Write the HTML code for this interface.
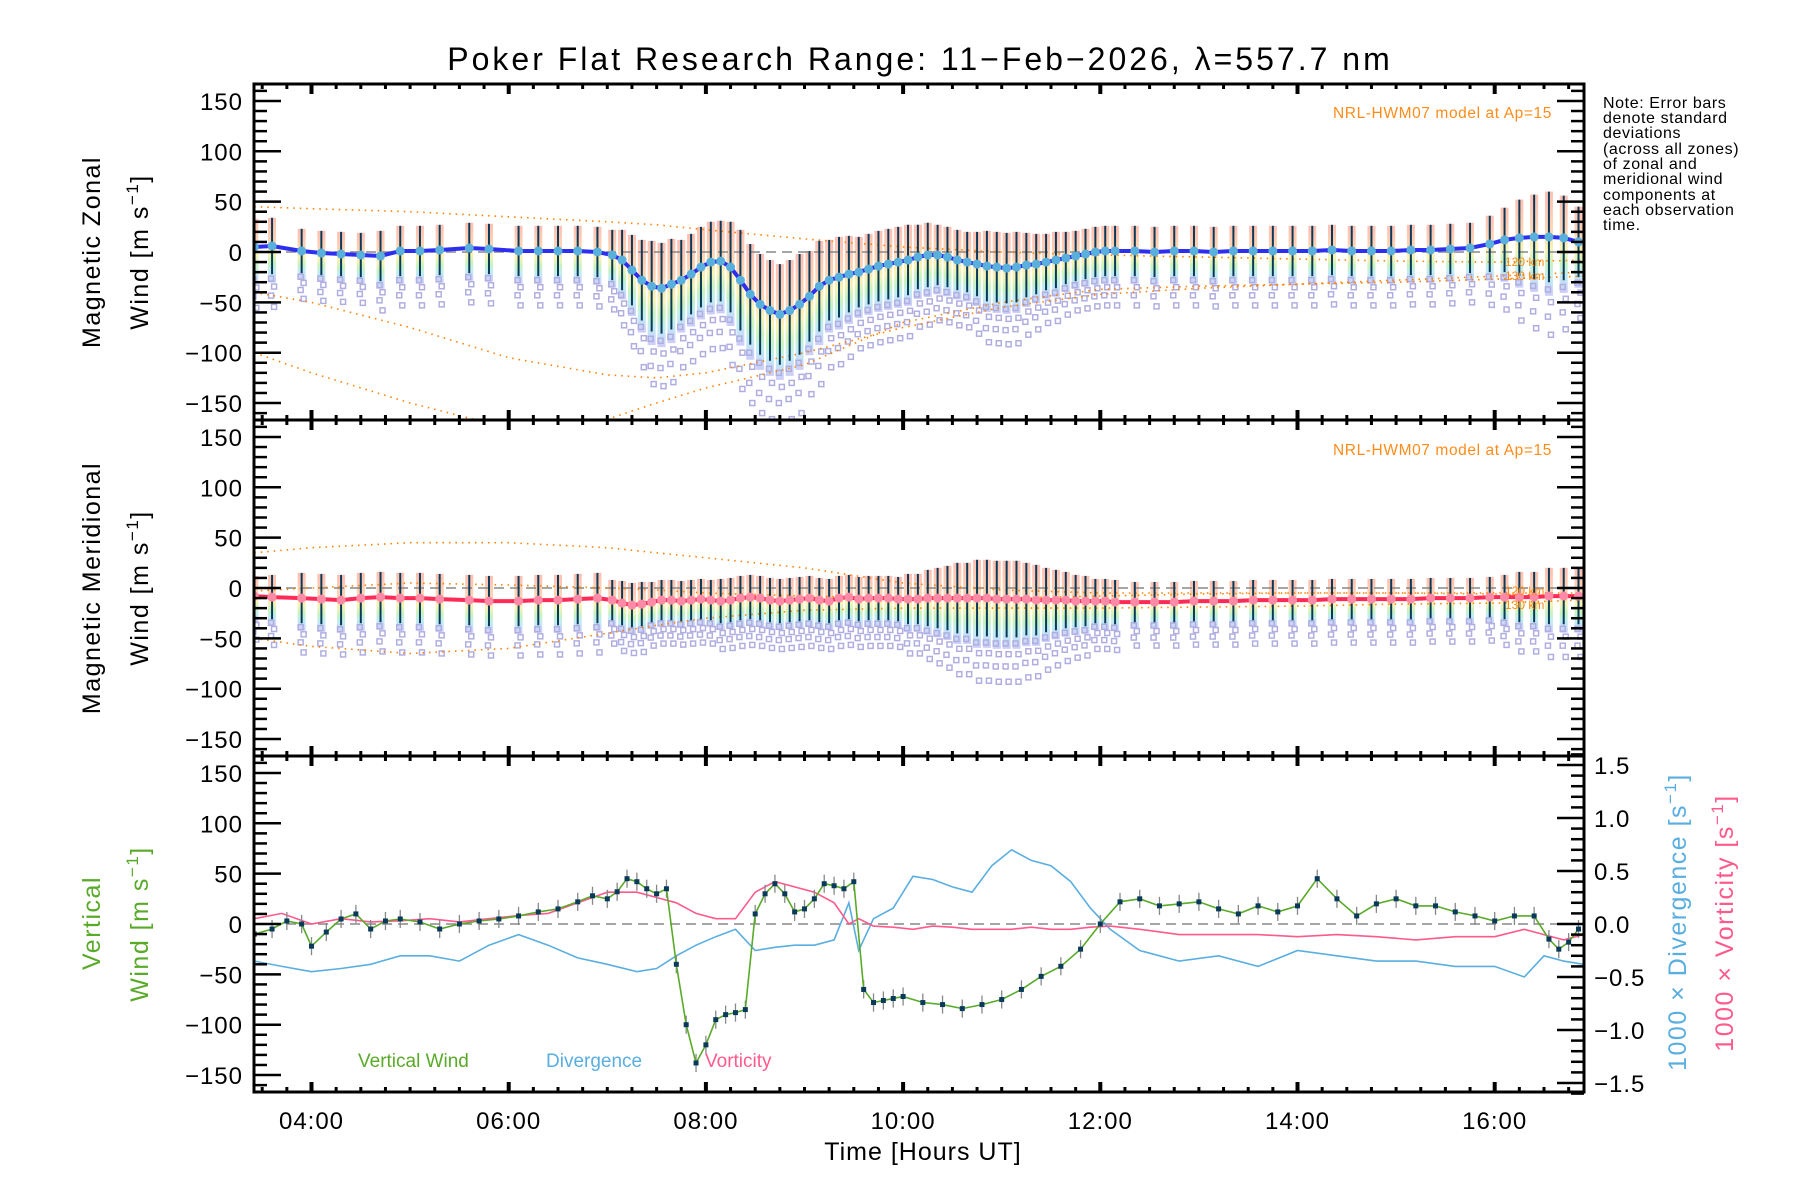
<!DOCTYPE html>
<html><head><meta charset="utf-8"><title>Poker Flat winds</title>
<style>
html,body{margin:0;padding:0;background:#fff;}
svg{display:block;font-family:"Liberation Sans",sans-serif;}
</style></head>
<body>
<svg id="chart" width="1800" height="1200" viewBox="0 0 1800 1200" xmlns="http://www.w3.org/2000/svg">
<defs>
<linearGradient id="rainbow" x1="0" y1="0" x2="0" y2="1">
<stop offset="0" stop-color="#ffb0a0"/><stop offset="0.35" stop-color="#ffc8a0"/><stop offset="0.55" stop-color="#f8f0a0"/><stop offset="0.7" stop-color="#b8f0b0"/><stop offset="0.82" stop-color="#b0e8f0"/><stop offset="1" stop-color="#c0c0f8"/>
</linearGradient>
<clipPath id="clip0"><rect x="254" y="84" width="1330" height="336"/></clipPath>
<clipPath id="clip1"><rect x="254" y="420" width="1330" height="336"/></clipPath>
<clipPath id="clip2"><rect x="254" y="756" width="1330" height="336"/></clipPath>
</defs>
<text x="920" y="70" font-size="32" letter-spacing="3" text-anchor="middle" fill="#000">Poker Flat Research Range: 11−Feb−2026, λ=557.7 nm</text>
<g id="layer"></g>
<text transform="translate(100,252) rotate(-90)" font-size="25" letter-spacing="1.5" text-anchor="middle">Magnetic Zonal</text>
<text transform="translate(148,252) rotate(-90)" font-size="25" letter-spacing="1.5" text-anchor="middle">Wind [m s<tspan dy="-10" font-size="17">−1</tspan><tspan dy="10">]</tspan></text>
<text transform="translate(100,588) rotate(-90)" font-size="25" letter-spacing="1.5" text-anchor="middle">Magnetic Meridional</text>
<text transform="translate(148,588) rotate(-90)" font-size="25" letter-spacing="1.5" text-anchor="middle">Wind [m s<tspan dy="-10" font-size="17">−1</tspan><tspan dy="10">]</tspan></text>
<text transform="translate(100,923) rotate(-90)" font-size="25" letter-spacing="1.5" text-anchor="middle" fill="#5aaa2a">Vertical</text>
<text transform="translate(148,924) rotate(-90)" font-size="25" letter-spacing="1.5" text-anchor="middle" fill="#5aaa2a">Wind [m s<tspan dy="-10" font-size="17">−1</tspan><tspan dy="10">]</tspan></text>
<text transform="translate(1686,922) rotate(-90)" font-size="25" letter-spacing="1.5" text-anchor="middle" fill="#5aaee0">1000 × Divergence [s<tspan dy="-10" font-size="17">−1</tspan><tspan dy="10">]</tspan></text>
<text transform="translate(1733,923) rotate(-90)" font-size="25" letter-spacing="1.5" text-anchor="middle" fill="#ff5a8c">1000 × Vorticity [s<tspan dy="-10" font-size="17">−1</tspan><tspan dy="10">]</tspan></text>
<text x="923" y="1160" font-size="25" letter-spacing="1" text-anchor="middle">Time [Hours UT]</text>
<g font-size="16" letter-spacing="0.6" fill="#000">
<text x="1603" y="108">Note: Error bars</text><text x="1603" y="123">denote standard</text><text x="1603" y="138">deviations</text><text x="1603" y="154">(across all zones)</text><text x="1603" y="169">of zonal and</text><text x="1603" y="184">meridional wind</text><text x="1603" y="200">components at</text><text x="1603" y="215">each observation</text><text x="1603" y="230">time.</text>
</g>
<text x="1552" y="118" font-size="15.5" letter-spacing="0.6" text-anchor="end" fill="#ff8c1a">NRL-HWM07 model at Ap=15</text>
<text x="1552" y="455" font-size="15.5" letter-spacing="0.6" text-anchor="end" fill="#ff8c1a">NRL-HWM07 model at Ap=15</text>
<text x="358" y="1067" font-size="19" fill="#5aaa2a">Vertical Wind</text>
<text x="546" y="1067" font-size="19" fill="#5aaee0">Divergence</text>
<text x="705" y="1067" font-size="19" fill="#ff5a8c">Vorticity</text>
</svg>
<script>
// ---- data ----
const obsTimes = [3.42,3.6,3.9,4.1,4.3,4.5,4.7,4.9,5.1,5.3,5.6,5.8,6.1,6.3,6.5,6.7,6.9,7.05,
7.15,7.25,7.35,7.45,7.55,7.65,7.75,7.85,7.95,8.05,8.15,8.25,8.35,8.45,8.55,8.65,8.75,8.85,8.95,9.05,9.15,9.25,9.35,9.45,9.55,9.65,9.75,9.85,9.95,10.05,10.15,10.25,10.35,10.45,10.55,10.65,10.75,10.85,10.95,11.05,11.15,11.25,11.35,11.45,11.55,11.65,11.75,11.85,11.95,12.05,12.15,
12.35,12.55,12.75,12.95,13.15,13.35,13.55,13.75,13.95,14.15,14.35,14.55,14.75,14.95,15.15,15.35,15.55,15.75,15.95,16.1,16.25,16.4,16.55,16.7,16.85];
const zonalMean = [5,6,1,-1,-2,-3,-4,1,1,2,4,3,1,1,1,1,0,-3,
-8,-18,-28,-34,-36,-32,-28,-22,-15,-10,-9,-15,-28,-42,-52,-58,-62,-58,-52,-44,-34,-28,-25,-22,-20,-17,-14,-12,-10,-8,-5,-3,-3,-5,-8,-10,-12,-14,-15,-16,-15,-13,-12,-10,-8,-6,-4,-2,0,1,1,
1,0,1,1,0,1,1,1,1,1,2,1,1,1,2,2,3,4,8,12,14,15,15,14,10];
const zonalErr = [28,28,22,22,22,22,25,25,25,25,25,25,25,25,25,25,25,25,
30,35,40,45,45,45,40,40,40,40,40,45,50,50,50,50,50,50,50,45,45,40,40,38,35,35,35,35,35,35,32,32,30,30,30,30,32,35,35,35,35,32,30,28,28,26,25,25,25,25,25,
25,25,25,25,25,25,25,25,25,25,25,25,25,25,25,25,25,25,28,32,38,42,45,42,35];
const meridMean = [-8,-9,-10,-11,-12,-10,-9,-10,-10,-11,-12,-13,-13,-12,-12,-11,-10,-12,
-15,-17,-16,-14,-12,-12,-13,-12,-11,-12,-13,-12,-10,-9,-10,-12,-13,-12,-11,-10,-12,-13,-10,-9,-11,-10,-10,-10,-11,-11,-11,-10,-10,-10,-10,-10,-10,-10,-11,-11,-11,-11,-12,-12,-12,-12,-13,-13,-13,-13,-14,
-14,-14,-14,-13,-13,-13,-12,-12,-12,-12,-11,-11,-11,-11,-11,-10,-10,-10,-9,-9,-9,-9,-8,-8,-8];
const meridErr = [20,22,25,25,25,25,25,25,25,25,25,25,25,25,25,25,25,20,
22,22,22,20,20,20,20,20,20,20,22,22,22,22,22,22,22,22,22,22,22,22,22,22,22,22,22,22,22,25,25,28,30,32,35,35,38,38,38,38,38,36,35,32,30,28,26,25,22,22,22,
20,20,20,20,20,20,20,20,20,20,20,20,20,20,20,20,20,20,20,22,25,25,28,28,28];
const modelTimes = [3.42,4,5,6,7,7.5,8,9,10,11,12,13,14,15,16,16.9];
const zonalModelA = [45,43,40,35,30,27,22,13,5,0,-3,-5,-7,-9,-10,-8];
const zonalModelB = [-40,-50,-75,-105,-122,-125,-120,-100,-75,-55,-42,-36,-32,-28,-24,-20];
const zonalModelC = [-100,-120,-150,-175,-166,-150,-135,-112,-70,-50,-37,-34,-32,-30,-27,-24];
const meridModelA = [35,40,45,45,40,35,30,20,5,-2,-5,-5,-5,-5,-5,-5];
const meridModelB = [-50,-58,-65,-60,-45,-37,-30,-22,-20,-20,-20,-19,-18,-16,-15,-12];
const meridModelC = [-3,0,5,3,0,-2,-5,-8,-10,-10,-8,-6,-5,-5,-6,-8];
const vertTimes = [3.42,3.6,3.75,3.9,4.0,4.15,4.3,4.45,4.6,4.75,4.9,5.1,5.3,5.5,5.7,5.9,6.1,6.3,6.5,6.7,6.85,7.0,7.1,7.2,7.3,7.4,7.5,7.6,7.7,7.8,7.9,8.0,8.1,8.2,8.3,8.4,8.5,8.6,8.7,8.8,8.9,9.0,9.1,9.2,9.3,9.4,9.5,9.6,9.7,9.8,9.9,10.0,10.2,10.4,10.6,10.8,11.0,11.2,11.4,11.6,11.8,12.0,12.2,12.4,12.6,12.8,13.0,13.2,13.4,13.6,13.8,14.0,14.2,14.4,14.6,14.8,15.0,15.2,15.4,15.6,15.8,16.0,16.2,16.4,16.55,16.65,16.75,16.85];
const vertWind = [-10,-5,3,0,-22,-8,5,10,-5,3,5,2,-5,0,3,5,8,12,15,22,28,25,32,45,42,35,30,35,-40,-100,-138,-120,-95,-90,-88,-85,10,30,40,30,12,15,25,40,38,35,42,-65,-78,-76,-74,-72,-78,-80,-84,-80,-75,-65,-52,-42,-25,0,22,25,18,20,22,15,10,18,12,18,45,25,8,20,25,18,18,12,8,3,8,8,-15,-25,-18,-5];
const curlTimes = [3.42,3.7,4.0,4.3,4.6,4.9,5.2,5.5,5.8,6.1,6.4,6.7,7.0,7.3,7.5,7.7,7.9,8.1,8.3,8.5,8.7,8.9,9.1,9.3,9.45,9.55,9.7,9.9,10.1,10.3,10.5,10.7,10.9,11.1,11.3,11.5,11.7,11.9,12.1,12.4,12.8,13.2,13.6,14.0,14.4,14.8,15.2,15.6,16.0,16.3,16.5,16.7,16.9];
const divergence = [-0.35,-0.4,-0.45,-0.42,-0.38,-0.3,-0.3,-0.35,-0.2,-0.1,-0.2,-0.32,-0.38,-0.45,-0.42,-0.3,-0.2,-0.12,-0.05,-0.25,-0.22,-0.2,-0.2,-0.15,0.2,-0.25,0.05,0.15,0.45,0.42,0.35,0.3,0.55,0.7,0.6,0.55,0.4,0.15,-0.05,-0.25,-0.35,-0.3,-0.4,-0.25,-0.3,-0.35,-0.35,-0.4,-0.4,-0.5,-0.3,-0.35,-0.38];
const vorticity = [0.05,0.1,0.0,0.05,0.02,0.03,0.05,0.02,0.05,0.08,0.1,0.2,0.3,0.3,0.25,0.2,0.1,0.05,0.05,0.3,0.4,0.35,0.3,0.2,0.0,0.05,-0.02,-0.03,-0.05,-0.02,-0.03,-0.05,-0.05,-0.05,-0.03,-0.05,-0.05,-0.03,-0.02,-0.05,-0.1,-0.1,-0.1,-0.12,-0.1,-0.12,-0.15,-0.12,-0.12,-0.05,-0.1,-0.15,-0.1];
const yTickValues = [-150,-100,-50,0,50,100,150];
const rightTickValues = [-1.5,-1.0,-0.5,0.0,0.5,1.0,1.5];
const xTickLabels = ["04:00","06:00","08:00","10:00","12:00","14:00","16:00"];
const xTickHours = [4,6,8,10,12,14,16];

// ---- scales ----
const L=254,R=1584,PT=[84,420,756],PH=336;
const X=h=>311.5+(h-4)*98.6;
const Y=(p,v)=>PT[p]+PH/2-v*1.007;
const YR=v=>PT[2]+PH/2-v*106;
const NS="http://www.w3.org/2000/svg";
const layer=document.getElementById('layer');
function mk(tag,attrs,parent){const e=document.createElementNS(NS,tag);for(const k in attrs)e.setAttribute(k,attrs[k]);(parent||layer).appendChild(e);return e;}
function pathOf(xs,ys,yf){return xs.map((t,i)=>(i?'L':'M')+X(t).toFixed(1)+','+yf(ys[i]).toFixed(1)).join('');}

function windPanel(p,mean,err,lineCol,dotCol,models,name){
  const g=mk('g',{'clip-path':'url(#clip'+p+')'});
  
  
  obsTimes.forEach((t,i)=>{
    const top=Y(p,mean[i]+err[i]), bot=Y(p,mean[i]-err[i]*1.3);
    const r=mk('rect',{x:X(t)-4,y:top,width:8,height:bot-top,fill:'url(#rainbow)',opacity:0.8},g);
    
    
  });
  obsTimes.forEach((t,i)=>{
    [4,11,19,29].forEach((o,k)=>{
      const v=mean[i]-err[i]-o*err[i]/25;
      const s=mk('rect',{x:X(t)-2.5+(k%2?2:-1),y:Y(p,v)-2.5,width:5,height:5,fill:'none',stroke:'#b0aee0','stroke-width':1.5},g);
      
      
    });
  });
  const z=mk('line',{x1:L,x2:R,y1:Y(p,0),y2:Y(p,0),stroke:'#888','stroke-dasharray':'10 6','stroke-width':1.5},g);
  
  
  models.forEach((m,k)=>{
    const pl=mk('path',{d:pathOf(modelTimes,m,v=>Y(p,v)),fill:'none',stroke:'#ff8000','stroke-width':1.6,'stroke-dasharray':'1.5 5'},g);
    
    
  });
  obsTimes.forEach((t,i)=>{
    const b=mk('line',{x1:X(t),x2:X(t),y1:Y(p,mean[i]+err[i]),y2:Y(p,mean[i]-err[i]),stroke:'#0a3a5a','stroke-width':2},g);
    
    
  });
  const ml=mk('path',{d:pathOf(obsTimes,mean,v=>Y(p,v)),fill:'none',stroke:lineCol,'stroke-width':4},g);
  
  
  obsTimes.forEach((t,i)=>{
    const c=mk('circle',{cx:X(t),cy:Y(p,mean[i]),r:4.5,fill:dotCol},g);
    
    
  });
}
windPanel(0,zonalMean,zonalErr,'#2e2ef0','#5ab0dc',[zonalModelA,zonalModelB,zonalModelC],'zonal');
windPanel(1,meridMean,meridErr,'#ff2a55','#ff8aa8',[meridModelA,meridModelB,meridModelC],'meridional');

[[0,-10,'120 km'],[0,-24,'130 km'],[1,-3,'120 km'],[1,-17,'130 km']].forEach(a=>{
  const t=mk('text',{x:1505,y:Y(a[0],a[1])+4,'font-size':12,fill:'#ff8c1a'});t.textContent=a[2];
  
  
});

(function(){
  const g=mk('g',{'clip-path':'url(#clip2)'});
  
  
  const z=mk('line',{x1:L,x2:R,y1:Y(2,0),y2:Y(2,0),stroke:'#888','stroke-dasharray':'10 6','stroke-width':1.5},g);
  
  
  const d=mk('path',{d:pathOf(curlTimes,divergence,YR),fill:'none',stroke:'#5aaee0','stroke-width':1.6},g);
  
  
  const v=mk('path',{d:pathOf(curlTimes,vorticity,YR),fill:'none',stroke:'#ff5a8c','stroke-width':1.6},g);
  
  
  vertTimes.forEach((t,i)=>{
    const b=mk('line',{x1:X(t),x2:X(t),y1:Y(2,vertWind[i]+9),y2:Y(2,vertWind[i]-9),stroke:'#888','stroke-width':1.3},g);
    
    
  });
  const w=mk('path',{d:pathOf(vertTimes,vertWind,u=>Y(2,u)),fill:'none',stroke:'#5aaa2a','stroke-width':1.6},g);
  
  
  vertTimes.forEach((t,i)=>{
    const s=mk('rect',{x:X(t)-2.5,y:Y(2,vertWind[i])-2.5,width:5,height:5,fill:'#0a3a5a'},g);
    
    
  });
})();

for(let p=0;p<3;p++){
  const top=PT[p],bot=top+PH;
  const f=mk('rect',{x:L,y:top,width:R-L,height:PH,fill:'none',stroke:'#000','stroke-width':3});
  
  
  for(let v=-160;v<=160;v+=10){
    const y=Y(p,v),maj=v%50===0,len=maj?27:13;
    const t=mk('line',{x1:L,x2:L+len,y1:y,y2:y,stroke:'#000','stroke-width':2.5});
    
    
    if(p<2){const t2=mk('line',{x1:R-len,x2:R,y1:y,y2:y,stroke:'#000','stroke-width':2.5});
      
      }
  }
  yTickValues.forEach(v=>{
    const t=mk('text',{x:243,y:Y(p,v)+9,'font-size':24,'letter-spacing':1,'text-anchor':'end'});
    t.textContent=(v<0?'−':'')+Math.abs(v);
    
    
  });
  for(let h=3.5;h<=16.9;h+=0.25){
    const x=X(h),maj=Math.abs(h%2)<0.01,len=maj?10:5,w=maj?4:3;
    const a=mk('line',{x1:x,x2:x,y1:top,y2:top+len,stroke:'#000','stroke-width':w});
    
    
    const b=mk('line',{x1:x,x2:x,y1:bot-len,y2:bot,stroke:'#000','stroke-width':w});
    
    
  }
}
for(let k=-16;k<=16;k++){
  const v=k/10,y=YR(v),maj=k%5===0,len=maj?27:13;
  const t=mk('line',{x1:R-len,x2:R,y1:y,y2:y,stroke:'#000','stroke-width':2.5});
  
  
}
rightTickValues.forEach(v=>{
  const t=mk('text',{x:1594,y:YR(v)+9,'font-size':24,'letter-spacing':1});
  t.textContent=(v<0?'−':'')+Math.abs(v).toFixed(1);
  
  
});
xTickHours.forEach((h,i)=>{
  const t=mk('text',{x:X(h),y:1129,'font-size':24,'letter-spacing':1,'text-anchor':'middle'});
  t.textContent=xTickLabels[i];
  
  
});
</script>
</body></html>
